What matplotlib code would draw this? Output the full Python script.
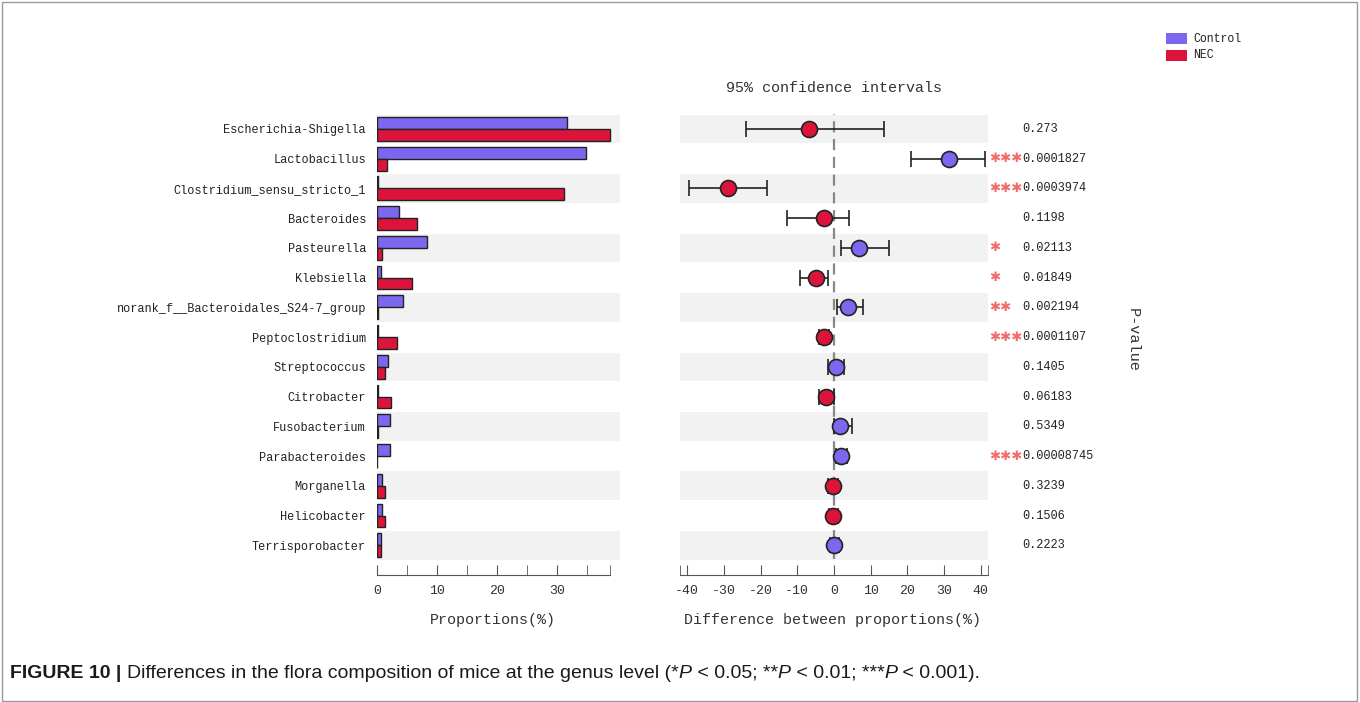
import matplotlib
matplotlib.use("Agg")
import matplotlib.pyplot as plt
from matplotlib.patches import Rectangle

# --- data ---
genera = ["Escherichia-Shigella", "Lactobacillus", "Clostridium_sensu_stricto_1",
          "Bacteroides", "Pasteurella", "Klebsiella",
          "norank_f__Bacteroidales_S24-7_group", "Peptoclostridium",
          "Streptococcus", "Citrobacter", "Fusobacterium", "Parabacteroides",
          "Morganella", "Helicobacter", "Terrisporobacter"]
control_pct = [31.6, 34.8, 0.1, 3.7, 8.3, 0.6, 4.3, 0.1, 1.9, 0.1, 2.2, 2.2, 0.9, 0.9, 0.7]
nec_pct = [38.8, 1.6, 31.1, 6.6, 0.9, 5.9, 0.1, 3.4, 1.4, 2.4, 0.1, 0.05, 1.3, 1.3, 0.7]
diff = [-6.7, 31.3, -28.9, -2.7, 6.9, -5.0, 3.9, -2.8, 0.5, -2.2, 1.7, 1.9, -0.3, -0.3, 0.1]
ci_low = [-24.0, 20.9, -39.6, -12.7, 1.8, -9.4, 0.7, -4.0, -1.7, -4.2, -0.1, 0.6, -1.6, -1.5, -1.2]
ci_high = [13.6, 41.1, -18.3, 4.2, 15.0, -1.7, 7.8, -1.5, 2.7, -0.1, 4.9, 3.5, 1.0, 1.0, 1.3]
pvals = ["0.273", "0.0001827", "0.0003974", "0.1198", "0.02113", "0.01849",
         "0.002194", "0.0001107", "0.1405", "0.06183", "0.5349", "0.00008745",
         "0.3239", "0.1506", "0.2223"]
stars = ["", "***", "***", "", "*", "*", "**", "***", "", "", "", "***", "", "", ""]

CONTROL = "#7b68ee"
NEC = "#dc143c"
STRIPE = "#f2f2f2"
STAR = "#f26a6a"
MONO = "Liberation Mono"

plt.rcParams["font.family"] = MONO
plt.rcParams["axes.unicode_minus"] = False

fig = plt.figure(figsize=(13.6, 7.02), dpi=100)
n = len(genera)
rows = list(range(n))

# pixel helpers for axes placement
def box(x0, x1, y0, y1):
    return [x0 / 1360, 1 - y1 / 702, (x1 - x0) / 1360, (y1 - y0) / 702]

ax1 = fig.add_axes(box(377, 620, 114, 575))
ax2 = fig.add_axes(box(680, 988, 114, 575))

for ax in (ax1, ax2):
    ax.set_ylim(15.0, -0.5)
    for i in rows:
        if i % 2 == 0:
            ax.axhspan(i - 0.48, i + 0.48, color=STRIPE, lw=0, zorder=0)
    for s in ("top", "left", "right"):
        ax.spines[s].set_visible(False)
    ax.spines["bottom"].set_color("#555555")
    ax.tick_params(axis="x", which="both", direction="in", length=7,
                   color="#555555", labelsize=9.5, pad=7, labelcolor="#333333")

# left panel: proportions
h = 0.4
ax1.barh([r - h / 2 for r in rows], control_pct, height=h, color=CONTROL,
         edgecolor="#222222", lw=1, zorder=2)
ax1.barh([r + h / 2 for r in rows], nec_pct, height=h, color=NEC,
         edgecolor="#222222", lw=1, zorder=2)
ax1.set_xlim(0, 40.5)
ax1.spines["bottom"].set_bounds(0, 38.8)
ax1.set_xticks([0, 10, 20, 30])
ax1.set_xticks([5, 15, 25, 35, 38.8], minor=True)
ax1.set_yticks(rows)
ax1.set_yticklabels(genera, fontsize=8.6, color="#222222")
ax1.tick_params(axis="y", length=0, pad=8)
ax1.set_xlabel("Proportions(%)", fontsize=10.8, color="#333333")
ax1.xaxis.set_label_coords(0.476, -0.083)

# right panel: differences with 95% CI
ax2.set_xlim(-42, 42)
ax2.set_xticks(range(-40, 41, 10))
ax2.set_xticks([-42, 42], minor=True)
ax2.set_yticks([])
ax2.axvline(0, ymin=0.035, ymax=1, color="#888888", lw=1.6, ls=(0, (5, 3)), zorder=1)
for i in rows:
    col = CONTROL if diff[i] > 0 else NEC
    ax2.errorbar(diff[i], i, xerr=[[diff[i] - ci_low[i]], [ci_high[i] - diff[i]]],
                 fmt="o", ms=11.5, mfc=col, mec="#222222", mew=1.2,
                 ecolor="#222222", elinewidth=1.2, capsize=5.5, capthick=1.2, zorder=3)
ax2.set_xlabel("Difference between proportions(%)", fontsize=10.8, color="#333333")
ax2.xaxis.set_label_coords(0.494, -0.083)
ax2.set_title("95% confidence intervals", fontsize=10.8, color="#333333", pad=16)

# p-value column
for i in rows:
    if stars[i]:
        ax2.text(42.3, i, stars[i].replace("*", "\u2731"), color=STAR,
                 fontsize=9.5, family="DejaVu Sans", ha="left",
                 va="center", clip_on=False)
    ax2.text(51.3, i, pvals[i], fontsize=8.6, color="#222222", ha="left",
             va="center", clip_on=False)

fig.text(1133 / 1360, 1 - 340 / 702, "P-value", rotation=270, fontsize=11,
         color="#333333", ha="center", va="center")

# legend
for k, (lab, col) in enumerate([("Control", CONTROL), ("NEC", NEC)]):
    y = 33 + k * 17
    fig.patches.append(Rectangle((1166 / 1360, 1 - (y + 11) / 702), 21 / 1360,
                                 11 / 702, transform=fig.transFigure,
                                 color=col, lw=0))
    fig.text(1193 / 1360, 1 - (y + 5.5) / 702, lab, fontsize=8.3,
             color="#222222", va="center", ha="left")

# outer frame
fig.patches.append(Rectangle((2 / 1360, 1 / 702), 1355 / 1360, 699 / 702,
                             transform=fig.transFigure, fill=False,
                             ec="#9a9a9a", lw=1))

# caption, built piece by piece for bold / italic parts
pieces = [("FIGURE 10 | ", "bold", "normal"),
          ("Differences in the flora composition of mice at the genus level (*", "normal", "normal"),
          ("P", "normal", "italic"), (" < 0.05; **", "normal", "normal"),
          ("P", "normal", "italic"), (" < 0.01; ***", "normal", "normal"),
          ("P", "normal", "italic"), (" < 0.001).", "normal", "normal")]
fig.canvas.draw()
r = fig.canvas.get_renderer()
x = 10
for txt, wt, st in pieces:
    t = fig.text(x / 1360, 1 - 678 / 702, txt, fontsize=14.0, family="Liberation Sans",
                 fontweight=wt, style=st, color="#1a1a1a", va="baseline", ha="left")
    x += t.get_window_extent(r).width

fig.savefig("out.png", dpi=100)
